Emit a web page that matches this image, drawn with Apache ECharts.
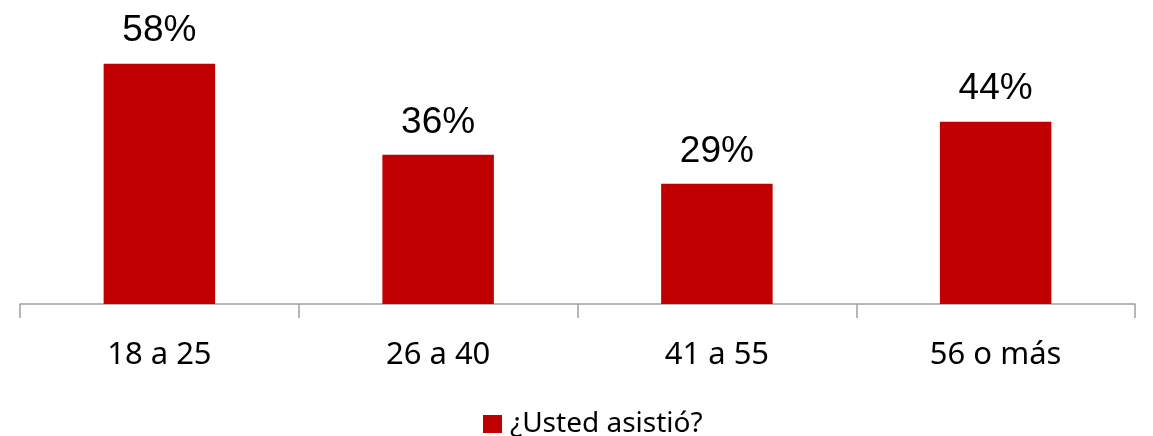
<!DOCTYPE html>
<html>
<head>
<meta charset="utf-8">
<script src="https://cdn.jsdelivr.net/npm/echarts@6/dist/echarts.min.js"></script>
<style>
  html, body { margin: 0; padding: 0; background: #fff; }
  #chart { width: 1153px; height: 436px; }
</style>
</head>
<body>
<div id="chart"></div>
<script>
// datos
const categories = ['18 a 25', '26 a 40', '41 a 55', '56 o más']
const seriesName = '¿Usted asistió?'
const values = [58, 36, 29, 44]

const chart = echarts.init(document.getElementById('chart'))

const option = {
  animation: false,
  grid: { left: 20, right: 18, top: 16, bottom: 132 },
  legend: {
    data: [seriesName],
    left: 478,
    top: 405,
    itemWidth: 19,
    itemHeight: 18,
    itemGap: 10,
    icon: 'rect',
    textStyle: { fontFamily: 'Noto Sans', fontSize: 28, color: '#000', padding: [0, 0, 0, 3] }
  },
  xAxis: {
    type: 'category',
    data: categories,
    boundaryGap: true,
    axisLine: { lineStyle: { color: '#a0a0a0', width: 1.5 } },
    axisTick: { show: true, length: 14, lineStyle: { color: '#a0a0a0', width: 1.5 } },
    axisLabel: { fontFamily: 'Noto Sans', fontSize: 31, color: '#000', margin: 36 }
  },
  yAxis: {
    type: 'value',
    min: 0,
    max: 69.5,
    show: false,
    splitLine: { show: false }
  },
  series: [
    {
      name: seriesName,
      type: 'bar',
      data: values,
      barWidth: '40%',
      itemStyle: { color: '#C00000' },
      label: {
        show: true,
        position: 'top',
        distance: 14,
        formatter: '{c}%',
        fontFamily: 'Liberation Sans',
        fontSize: 37,
        color: '#000'
      }
    }
  ]
}

chart.setOption(option)
</script>
</body>
</html>
